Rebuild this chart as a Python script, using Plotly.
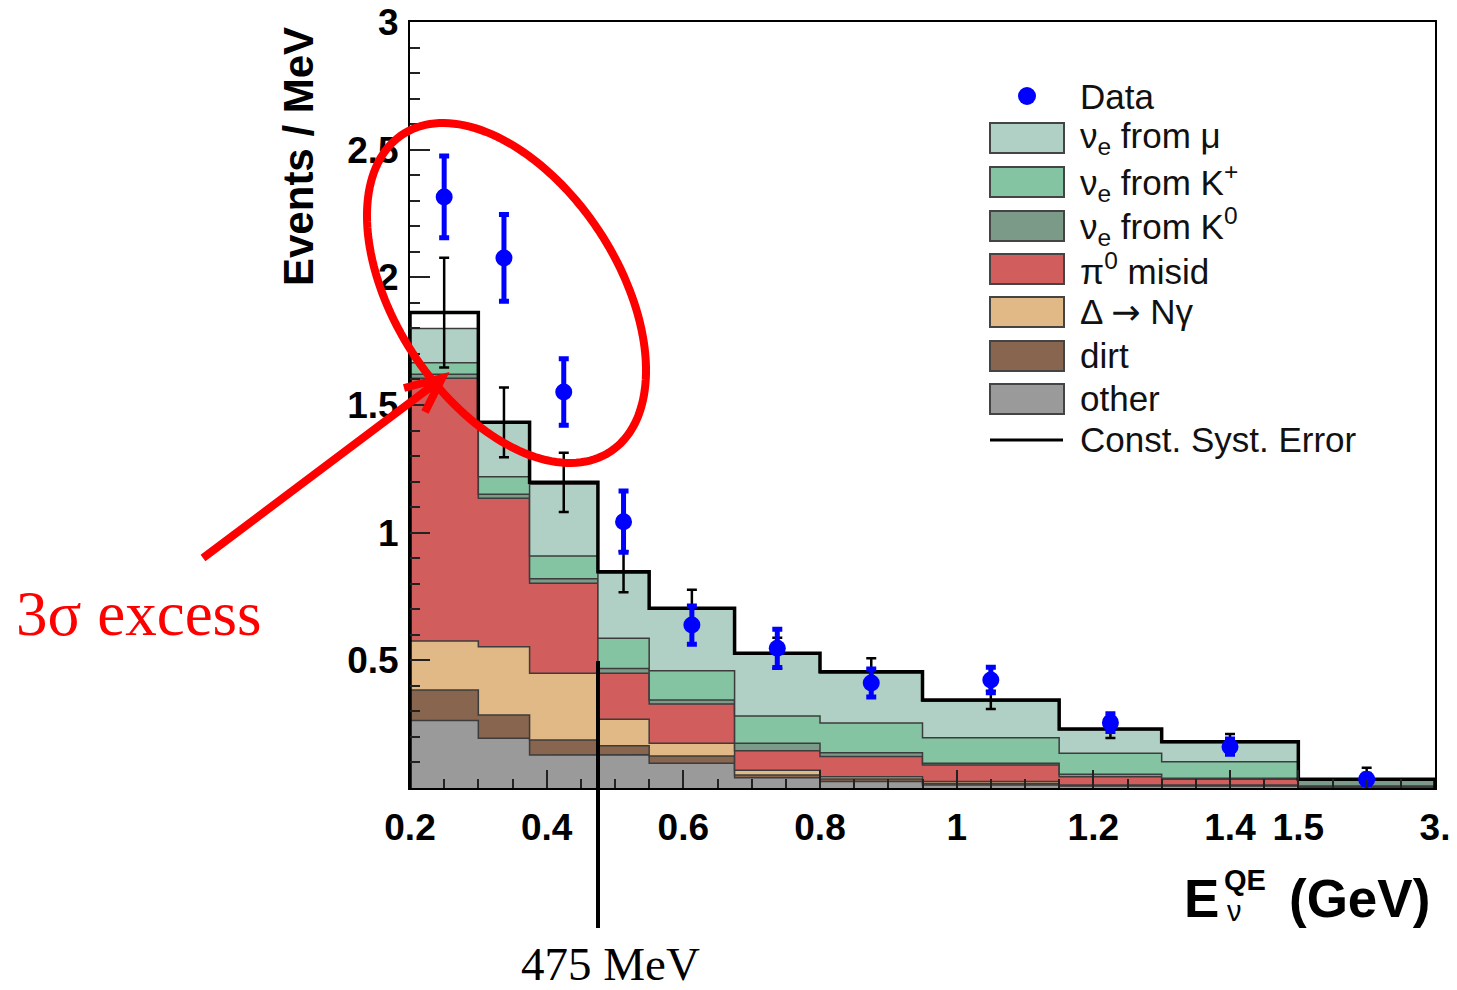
import numpy as np
import plotly.graph_objects as go

# ---------------- data ----------------
bin_edges_gev = [0.2, 0.3, 0.375, 0.475, 0.55, 0.675, 0.8, 0.95, 1.15, 1.3, 1.5, 3.0]

other     = [0.264, 0.195, 0.129, 0.130, 0.097, 0.040, 0.025, 0.012, 0.008, 0.008, 0.003]
dirt      = [0.120, 0.091, 0.059, 0.035, 0.028, 0.011, 0.010, 0.006, 0.002, 0.002, 0.001]
delta_ng  = [0.192, 0.267, 0.261, 0.104, 0.050, 0.019, 0.009, 0.007, 0.002, 0.002, 0.001]
pi0_misid = [1.029, 0.582, 0.353, 0.180, 0.154, 0.076, 0.079, 0.065, 0.032, 0.022, 0.003]
nue_k0    = [0.015, 0.015, 0.018, 0.019, 0.016, 0.029, 0.015, 0.007, 0.010, 0.004, 0.022]
nue_kplus = [0.045, 0.069, 0.089, 0.118, 0.114, 0.107, 0.117, 0.100, 0.082, 0.065, 0.002]
nue_mu    = [0.135, 0.211, 0.281, 0.256, 0.241, 0.243, 0.195, 0.143, 0.092, 0.075, 0.002]

total_pred = [1.862, 1.432, 1.197, 0.847, 0.704, 0.528, 0.455, 0.345, 0.231, 0.181, 0.034]
syst_err   = [0.215, 0.137, 0.116, 0.080, 0.072, 0.060, 0.053, 0.036, 0.035, 0.030, 0.045]

data_vals = [2.315, 2.076, 1.551, 1.043, 0.638, 0.547, 0.411, 0.423, 0.256, 0.162, 0.034]
data_err  = [0.160, 0.170, 0.130, 0.120, 0.075, 0.075, 0.055, 0.050, 0.035, 0.030, 0.020]

x_tick_values = [0.2, 0.4, 0.6, 0.8, 1.0, 1.2, 1.4, 1.5, 3.0]
x_tick_labels = ["0.2", "0.4", "0.6", "0.8", "1", "1.2", "1.4", "1.5", "3."]
y_tick_values = [0.5, 1.0, 1.5, 2.0, 2.5, 3.0]
y_tick_labels = ["0.5", "1", "1.5", "2", "2.5", "3"]

layer_names  = ["other", "dirt", "Δ → Nγ", "π0 misid", "νe from K0", "νe from K+", "νe from μ"]
layer_values = [other, dirt, delta_ng, pi0_misid, nue_k0, nue_kplus, nue_mu]
layer_colors = ["#9a9a9a", "#87654f", "#e0b987", "#d15d5d", "#7c9a88", "#84c4a2", "#b0cfc5"]


# the axis is linear up to 1.5 GeV, then 1.5-3 GeV is compressed
def xmap(e):
    e = np.asarray(e, dtype=float)
    return np.where(e <= 1.5, e, 1.5 + (e - 1.5) * (0.2 / 1.5))


edges = xmap(bin_edges_gev)
centers = (edges[:-1] + edges[1:]) / 2
step_x = np.repeat(edges, 2)[1:-1]

fig = go.Figure()

cum = np.zeros(len(other))
for i, (name, vals, col) in enumerate(zip(layer_names, layer_values, layer_colors)):
    cum = cum + np.asarray(vals)
    fig.add_trace(go.Scatter(
        x=step_x, y=np.repeat(cum, 2), mode="lines", name=name,
        line=dict(color="#3c3c3c", width=1.5),
        fill="tozeroy" if i == 0 else "tonexty", fillcolor=col,
        showlegend=False, hoverinfo="skip"))

# total outline
out_x = np.concatenate([[edges[0]], step_x, [edges[-1]]])
out_y = np.concatenate([[0], np.repeat(total_pred, 2), [0]])
fig.add_trace(go.Scatter(x=out_x, y=out_y, mode="lines",
                         line=dict(color="black", width=3.5),
                         showlegend=False, hoverinfo="skip"))

# constant systematic error bars
fig.add_trace(go.Scatter(
    x=centers, y=total_pred, mode="markers",
    marker=dict(size=2, color="rgba(0,0,0,0)"),
    error_y=dict(type="data", array=syst_err, color="black", thickness=2.5, width=5),
    showlegend=False, hoverinfo="skip"))

# data
fig.add_trace(go.Scatter(
    x=centers, y=data_vals, mode="markers",
    marker=dict(size=17, color="#0000ff"),
    error_y=dict(type="data", array=data_err, color="#0000ff", thickness=5, width=5),
    showlegend=False))

# ---------------- layout ----------------
W, H = 1457, 990
L, R, T, B = 410, 1435, 22, 788


def px(x):
    return (x - L) / (R - L)


def py(y):
    return (B - y) / (B - T)


tickfont = dict(family="Liberation Sans", size=37, color="black", weight="bold")

fig.update_layout(
    width=W, height=H,
    margin=dict(l=L, r=W - R, t=T, b=H - B, autoexpand=False),
    paper_bgcolor="white", plot_bgcolor="white",
    xaxis=dict(range=[0.2, 1.7], tickmode="array", automargin=False,
               tickvals=list(xmap(x_tick_values)), ticktext=x_tick_labels,
               ticks="inside", ticklen=18, tickwidth=2, tickcolor="#222",
               minor=dict(ticks="inside", ticklen=9, tickwidth=1.5, tickcolor="#222",
                          tickmode="linear", tick0=0.2, dtick=0.05),
               showline=True, linecolor="black", linewidth=2, mirror=True,
               showgrid=False, zeroline=False, tickfont=tickfont,
               ticklabelstandoff=6),
    yaxis=dict(range=[0, 3], tickmode="array", automargin=False,
               tickvals=y_tick_values, ticktext=y_tick_labels,
               ticks="inside", ticklen=20, tickwidth=2, tickcolor="#222",
               minor=dict(ticks="inside", ticklen=10, tickwidth=1.5, tickcolor="#222",
                          tickmode="linear", tick0=0, dtick=0.1),
               showline=True, linecolor="black", linewidth=2, mirror=True,
               showgrid=False, zeroline=False, tickfont=tickfont,
               ticklabelstandoff=2),
)

shapes = []
annotations = []


def note(x, y, text, font, xanchor="center", yanchor="middle", **kw):
    annotations.append(dict(x=px(x), y=py(y), xref="paper", yref="paper",
                            text=text, showarrow=False, xanchor=xanchor,
                            yanchor=yanchor, font=font, **kw))


# ---- legend (drawn manually) ----
leg_font = dict(family="Liberation Sans", size=35, color="#111")
shapes.append(dict(type="circle", xref="paper", yref="paper",
                   x0=px(1018), x1=px(1036), y0=py(105), y1=py(87),
                   fillcolor="#0000ff", line=dict(width=0)))
note(1078, 96, "Data", leg_font, xanchor="left")
arrow_txt = "Δ <span style='font-family:DejaVu Sans'>→</span> Nγ"
legend_rows = [
    ("ν<sub>e</sub> from μ", layer_colors[6], 138),
    ("ν<sub>e</sub> from K<sup>+</sup>", layer_colors[5], 182),
    ("ν<sub>e</sub> from K<sup>0</sup>", layer_colors[4], 226),
    ("π<sup>0</sup> misid", layer_colors[3], 269),
    (arrow_txt, layer_colors[2], 312),
    ("dirt", layer_colors[1], 356),
    ("other", layer_colors[0], 399),
]
for txt, col, yc in legend_rows:
    shapes.append(dict(type="rect", xref="paper", yref="paper",
                       x0=px(990), x1=px(1064), y0=py(yc + 15), y1=py(yc - 15),
                       fillcolor=col, line=dict(color="#444", width=2)))
    note(1078, yc, txt, leg_font, xanchor="left")
shapes.append(dict(type="line", xref="paper", yref="paper",
                   x0=px(990), x1=px(1063), y0=py(440), y1=py(440),
                   line=dict(color="black", width=3)))
note(1078, 440, "Const. Syst. Error", leg_font, xanchor="left")

# ---- axis titles ----
note(298, 157, "<b>Events / MeV</b>",
     dict(family="Liberation Sans", size=42, color="black"), textangle=-90)
title_font = dict(family="Liberation Sans", size=53, color="black", weight="bold")
note(1201, 898, "E", title_font)
note(1245, 880, "QE", dict(family="Liberation Sans", size=29, color="black", weight="bold"))
note(1234, 911, "ν", dict(family="Liberation Sans", size=29, color="black"))
note(1359, 898, "(GeV)", title_font)

# ---- red ellipse ----
cx, cy, a, b, th = 506.5, 293.0, 189.6, 111.4, np.deg2rad(56.8)
t = np.linspace(0, 2 * np.pi, 160)
ex = cx + a * np.cos(t) * np.cos(th) - b * np.sin(t) * np.sin(th)
ey = cy + a * np.cos(t) * np.sin(th) + b * np.sin(t) * np.cos(th)
path = "M " + " L ".join(f"{px(x):.5f},{py(y):.5f}" for x, y in zip(ex, ey)) + " Z"
shapes.append(dict(type="path", xref="paper", yref="paper", path=path,
                   line=dict(color="#ff0000", width=8)))

# ---- red arrow ----
arrow = (f"M {px(203):.5f},{py(558):.5f} L {px(440):.5f},{py(380):.5f} "
         f"M {px(404):.5f},{py(388):.5f} L {px(442):.5f},{py(378):.5f} "
         f"L {px(425):.5f},{py(412):.5f}")
shapes.append(dict(type="path", xref="paper", yref="paper", path=arrow,
                   line=dict(color="#ff0000", width=8)))
note(139, 614, "3σ excess", dict(family="Liberation Serif", size=63, color="#ff0000"))

# ---- 475 MeV marker ----
shapes.append(dict(type="line", xref="paper", yref="paper",
                   x0=px(598), x1=px(598), y0=py(661), y1=py(928),
                   line=dict(color="black", width=4)))
note(610, 992, "475 MeV", dict(family="Liberation Serif", size=47, color="black"),
     yanchor="bottom")

fig.update_layout(shapes=shapes, annotations=annotations)

fig.write_html("out.html")
